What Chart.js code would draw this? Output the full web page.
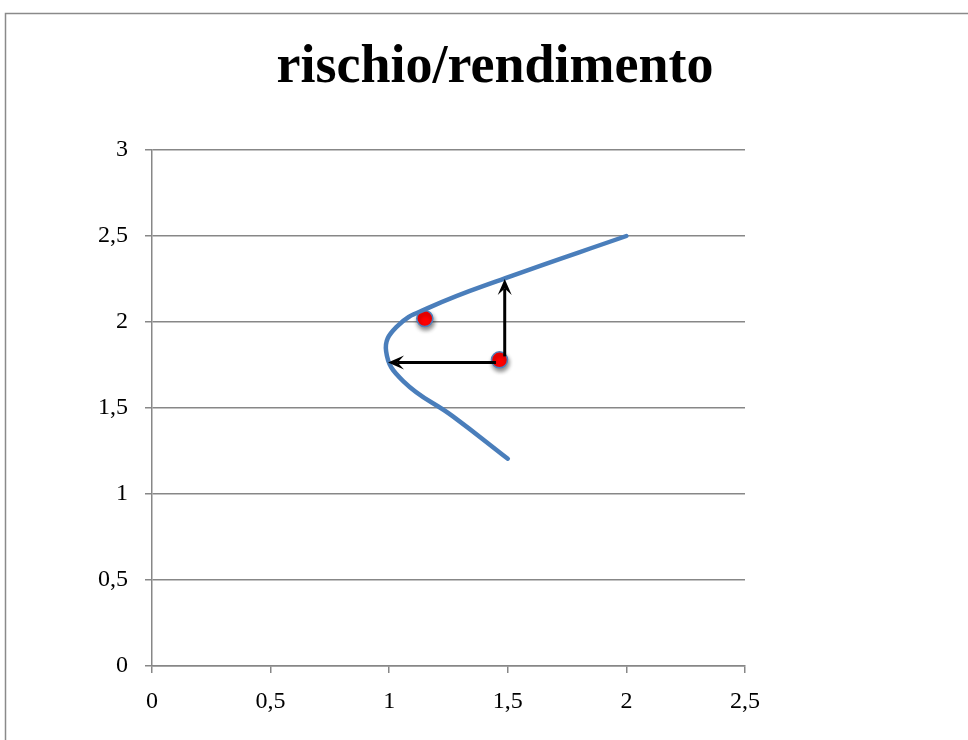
<!DOCTYPE html>
<html lang="it">
<head>
<meta charset="UTF-8">
<title>rischio/rendimento</title>
<script src="https://cdn.jsdelivr.net/npm/chart.js@4.4.0/dist/chart.umd.min.js"></script>
<style>
    html, body { margin: 0; padding: 0; background: #fff; overflow: hidden; }
    canvas { display: block; }
</style>
</head>
<body>
<canvas id="chart" width="990" height="740"></canvas>
<script>
    // frontier curve (risk on x, return on y)
    const curveX = [2.0, 1.49, 1.17, 1.03, 0.987, 1.06, 1.27, 1.5];
    const curveY = [2.5, 2.255, 2.085, 1.97, 1.83, 1.655, 1.45, 1.205];

    // portfolios
    const pointX = [1.15, 1.465];
    const pointY = [2.02, 1.78];

    // arrows from the inner portfolio to the curve
    const arrowFromX = [1.487, 1.45];
    const arrowFromY = [1.80, 1.765];
    const arrowToX = [1.487, 0.995];
    const arrowToY = [2.25, 1.765];

    const xTickLabels = ['0', '0,5', '1', '1,5', '2', '2,5'];
    const yTickLabels = ['0', '0,5', '1', '1,5', '2', '2,5', '3'];
    const chartTitle = 'rischio/rendimento';

    const serif = '"Liberation Serif", "DejaVu Serif", serif';
    const gridGray = '#878787';

    const toXY = (xs, ys) => xs.map((x, i) => ({ x: x, y: ys[i] }));

    // outer frame and title
    const framePlugin = {
        id: 'frame',
        beforeDraw(chart) {
            const ctx = chart.ctx;
            ctx.save();
            ctx.fillStyle = '#fff';
            ctx.fillRect(0, 0, chart.width, chart.height);
            ctx.strokeStyle = '#8a8a8a';
            ctx.lineWidth = 1.5;
            ctx.strokeRect(5.5, 13.5, 980, 800);
            ctx.fillStyle = '#000';
            ctx.font = 'bold 54px ' + serif;
            ctx.textAlign = 'center';
            ctx.textBaseline = 'alphabetic';
            ctx.fillText(chartTitle, 495, 82);
            ctx.restore();
        }
    };

    function drawArrow(ctx, x1, y1, x2, y2) {
        const ang = Math.atan2(y2 - y1, x2 - x1);
        const len = 16, half = 7;
        const bx = x2 - Math.cos(ang) * len, by = y2 - Math.sin(ang) * len;
        const ix = x2 - Math.cos(ang) * len * 0.6, iy = y2 - Math.sin(ang) * len * 0.6;
        ctx.beginPath();
        ctx.moveTo(x1, y1);
        ctx.lineTo(ix, iy);
        ctx.stroke();
        ctx.beginPath();
        ctx.moveTo(x2, y2);
        ctx.lineTo(bx - Math.sin(ang) * half, by + Math.cos(ang) * half);
        ctx.lineTo(ix, iy);
        ctx.lineTo(bx + Math.sin(ang) * half, by - Math.cos(ang) * half);
        ctx.closePath();
        ctx.fill();
    }

    // arrows go over the curve, the portfolio markers get a drop shadow
    const arrowPlugin = {
        id: 'arrows',
        afterDatasetDraw(chart, args) {
            const ctx = chart.ctx;
            if (args.index === 1) {
                ctx.restore();
                return;
            }
            const xs = chart.scales.x, ys = chart.scales.y;
            ctx.save();
            ctx.strokeStyle = '#000';
            ctx.fillStyle = '#000';
            ctx.lineWidth = 3;
            for (let i = 0; i < arrowFromX.length; i++) {
                drawArrow(ctx,
                    xs.getPixelForValue(arrowFromX[i]), ys.getPixelForValue(arrowFromY[i]),
                    xs.getPixelForValue(arrowToX[i]), ys.getPixelForValue(arrowToY[i]));
            }
            ctx.restore();
        },
        beforeDatasetDraw(chart, args) {
            if (args.index !== 1) return;
            const ctx = chart.ctx;
            ctx.save();
            ctx.shadowColor = 'rgba(0,0,0,0.45)';
            ctx.shadowBlur = 4;
            ctx.shadowOffsetX = 1;
            ctx.shadowOffsetY = 3;
        }
    };

    new Chart(document.getElementById('chart'), {
        type: 'scatter',
        data: {
            datasets: [{
                data: toXY(curveX, curveY),
                showLine: true,
                tension: 0.45,
                borderColor: '#4a7ebb',
                borderWidth: 4.5,
                borderCapStyle: 'round',
                pointRadius: 0
            }, {
                data: toXY(pointX, pointY),
                pointRadius: 8,
                backgroundColor: '#ff0000',
                borderColor: '#4f81bd',
                borderWidth: 1.5
            }]
        },
        options: {
            responsive: false,
            animation: false,
            layout: { padding: { left: 0, top: 150, right: 245, bottom: 14 } },
            plugins: {
                legend: { display: false },
                tooltip: { enabled: false }
            },
            scales: {
                x: {
                    type: 'linear',
                    min: 0, max: 2.5,
                    afterFit(s) { s.height = 60; },
                    ticks: {
                        stepSize: 0.5,
                        color: '#000',
                        font: { family: serif, size: 24 },
                        padding: 14,
                        maxRotation: 0,
                        callback: (v, i) => xTickLabels[i]
                    },
                    grid: { drawOnChartArea: false, color: gridGray, tickLength: 7, lineWidth: 1.5 },
                    border: { color: gridGray, width: 1.5 }
                },
                y: {
                    type: 'linear',
                    min: 0, max: 3,
                    afterFit(s) { s.width = 152; },
                    ticks: {
                        stepSize: 0.5,
                        color: '#000',
                        font: { family: serif, size: 24 },
                        padding: 17,
                        callback: (v, i) => yTickLabels[i]
                    },
                    grid: { color: gridGray, tickLength: 7, lineWidth: 1.5 },
                    border: { color: gridGray, width: 1.5 }
                }
            }
        },
        plugins: [framePlugin, arrowPlugin]
    });
</script>
</body>
</html>
